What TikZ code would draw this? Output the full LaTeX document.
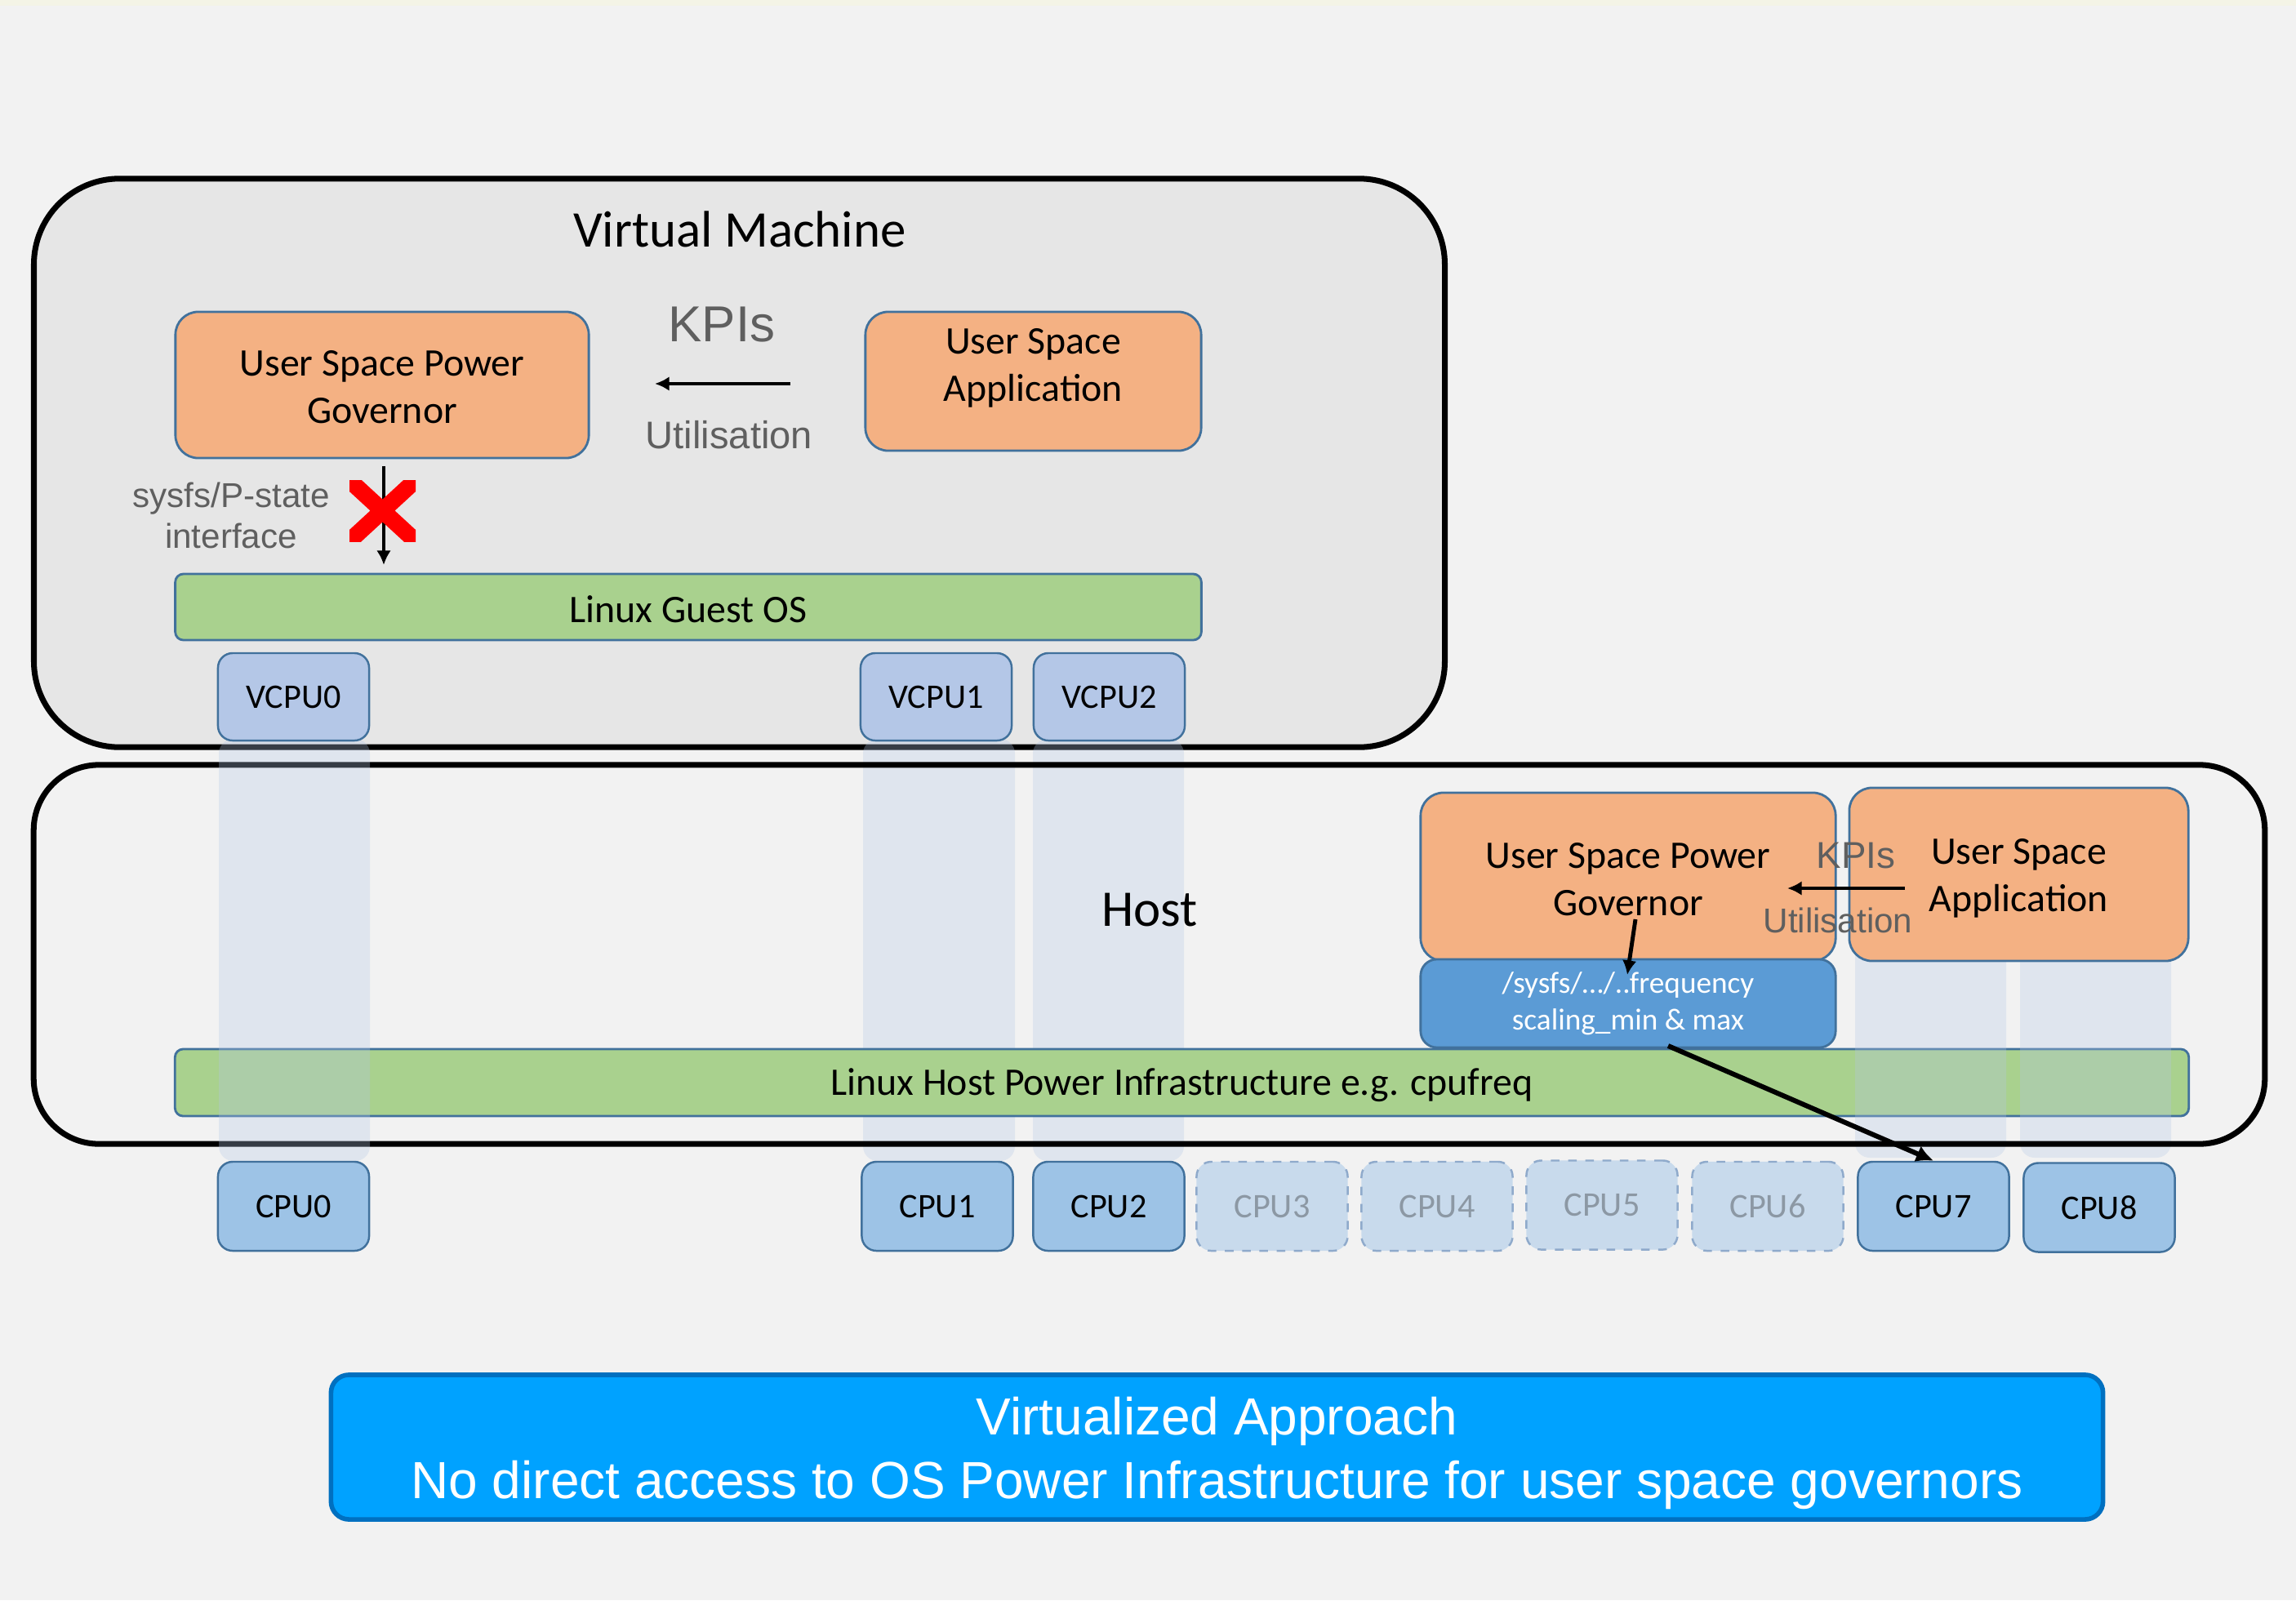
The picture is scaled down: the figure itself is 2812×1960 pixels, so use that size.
\documentclass[tikz,border=0pt]{standalone}
\usepackage{fontspec}
\setmainfont{Carlito}
\newfontfamily\arialf{Liberation Sans}
\usetikzlibrary{arrows.meta}
\definecolor{bgc}{HTML}{F2F2F2}
\definecolor{vmfill}{HTML}{E6E6E6}
\definecolor{orangef}{HTML}{F4B183}
\definecolor{edgeb}{HTML}{41719C}
\definecolor{greenf}{HTML}{A9D18E}
\definecolor{vcpuf}{HTML}{B4C7E7}
\definecolor{cpuf}{HTML}{9DC3E6}
\definecolor{dimf}{HTML}{C8DAEC}
\definecolor{dimd}{HTML}{8FAACB}
\definecolor{dimt}{HTML}{8C98A4}
\definecolor{sysf}{HTML}{5B9BD5}
\definecolor{grayt}{HTML}{5F5F5F}
\definecolor{colf}{HTML}{B4C7E7}
\definecolor{bluef}{HTML}{00A2FF}
\definecolor{blued}{HTML}{0070C0}
\definecolor{stripc}{HTML}{F4F4E6}
\tikzset{
  bigframe/.style={draw=black, line width=2pt, inner sep=0pt},
  orangebox/.style={draw=edgeb, fill=orangef, rounded corners=0.28cm, line width=0.8pt,
    align=center, inner sep=0pt, font=\fontsize{13.6}{16.6}\selectfont},
  boxtext/.style={inner sep=0pt, align=center, font=\fontsize{13.6}{16.6}\selectfont},
  greenbar/.style={draw=edgeb, fill=greenf, rounded corners=0.1cm, line width=0.8pt,
    inner sep=0pt, font=\fontsize{13.6}{16.6}\selectfont},
  vcpubox/.style={draw=edgeb, fill=vcpuf, rounded corners=0.18cm, line width=0.7pt,
    minimum width=1.85cm, minimum height=1.07cm, inner sep=0pt, font=\fontsize{12}{14}\selectfont},
  cpubox/.style={draw=edgeb, fill=cpuf, rounded corners=0.18cm, line width=0.7pt,
    minimum width=1.85cm, minimum height=1.09cm, inner sep=0pt, font=\fontsize{12}{14}\selectfont},
  dimbox/.style={draw=dimd, fill=dimf, dashed, rounded corners=0.18cm, line width=0.7pt,
    minimum width=1.85cm, minimum height=1.09cm, inner sep=0pt, text=dimt, font=\fontsize{12}{14}\selectfont},
  column/.style={fill=colf, opacity=0.3, rounded corners=0.18cm},
  title/.style={inner sep=0pt, font=\fontsize{17.9}{21}\selectfont},
  graylabel/.style={inner sep=0pt, text=grayt, align=center},
  arr/.style={draw=black, line width=1.4pt, -{Latex[length=5pt,width=5pt]}},
}
\begin{document}
\begin{tikzpicture}[x=0.01cm,y=-0.01cm]
\fill[bgc] (0,0) rectangle (2812,1960);
\useasboundingbox (0,0) rectangle (2812,1960);
\fill[stripc] (0,0) rectangle (2812,7);

% Virtual machine frame
\node[bigframe, fill=vmfill, rounded corners=1.05cm, minimum width=17.27cm, minimum height=6.96cm] (vm) at (905.5,567) {};

% columns under host frame
\fill[column] (1057,905) rectangle (1243,1422);
\fill[column] (1265,905) rectangle (1450,1422);

% host power bar
\node[greenbar, minimum width=24.65cm, minimum height=0.82cm] (hostbar) at (1447.5,1326) {};
\node[boxtext] (hostbartext) at (1447.5,1329) {Linux Host Power Infrastructure e.g. cpufreq};

\fill[column] (2272,1100) rectangle (2457,1418);
\fill[column] (2474,1100) rectangle (2659,1418);

% host frame
\node[bigframe, rounded corners=0.8cm, minimum width=27.31cm, minimum height=4.64cm] (host) at (1407.5,1169) {};

\fill[column] (268,905) rectangle (453,1422);

% VM content
\node[title] (vmtitle) at (906,281) {Virtual Machine};
\node[orangebox, minimum width=5.06cm, minimum height=1.79cm] (vgov) at (468,471.5) {};
\node[boxtext] (vgovtext) at (468,474) {User Space Power\\Governor};
\node[orangebox, minimum width=4.11cm, minimum height=1.70cm] (vapp) at (1265.5,467) {};
\node[boxtext] (vapptext) at (1265.5,451) {User Space\\Application};
\node[greenbar, minimum width=12.56cm, minimum height=0.81cm] (guestos) at (843,743.5) {};
\node[boxtext] (guestostext) at (843,746) {Linux Guest OS};

\node[graylabel, font=\arialf\fontsize{17.6}{20}\selectfont] (kpi1) at (884,398) {KPIs};
\node[graylabel, font=\arialf\fontsize{13.4}{16}\selectfont] (util1) at (893,533) {Utilisation};
\node[graylabel, font=\arialf\fontsize{12}{14.2}\selectfont] (sysfs1) at (283,631) {sysfs/P-state\\interface};

\coordinate (ka) at (968,470);
\coordinate (kb) at (802,470);
\draw[arr] (ka) -- (kb);

\coordinate (da) at (470,571);
\coordinate (db) at (470,692);
\draw[arr] (da) -- (db);

\begin{scope}
\clip (428,588) rectangle (509,663);
\draw[red, line width=5.8pt] (418,579) -- (519,672) (418,672) -- (519,579);
\end{scope}

\node[vcpubox] (vcpu0) at (359.5,853.5) {VCPU0};
\node[vcpubox] (vcpu1) at (1146.5,853.5) {VCPU1};
\node[vcpubox] (vcpu2) at (1358.5,853.5) {VCPU2};

% Host content
\node[title] (hosttitle) at (1408,1115) {Host};
\node[orangebox, minimum width=5.08cm, minimum height=2.06cm] (hgov) at (1994,1074) {};
\node[boxtext] (hgovtext) at (1994,1077) {User Space Power\\Governor};
\node[orangebox, minimum width=4.15cm, minimum height=2.12cm] (happ) at (2472.5,1071) {};
\node[boxtext] (happtext) at (2472.5,1076) {User Space\\Application};
\node[draw=edgeb, fill=sysf, rounded corners=0.2cm, line width=0.8pt, minimum width=5.08cm, minimum height=1.08cm,
  inner sep=0pt, align=center, text=white, font=\fontsize{10.6}{12.8}\selectfont] (sysfs2) at (1994,1229)
  {/sysfs/…/..frequency\\scaling\_min \& max};

\node[graylabel, font=\arialf\fontsize{13}{15}\selectfont] (kpi2) at (2273,1048) {KPIs};
\node[graylabel, font=\arialf\fontsize{12}{14}\selectfont] (util2) at (2251,1127) {Utilisation};

\coordinate (ha) at (2333,1088);
\coordinate (hb) at (2189,1088);
\draw[arr] (ha) -- (hb);

\coordinate (ga) at (2003,1126);
\coordinate (gb) at (1993,1194);
\draw[arr] (ga) -- (gb);

% CPUs
\node[cpubox] (cpu0) at (359.5,1477.5) {CPU0};
\node[cpubox] (cpu1) at (1148,1477.5) {CPU1};
\node[cpubox] (cpu2) at (1358,1477.5) {CPU2};
\node[dimbox] (cpu3) at (1558,1477.5) {CPU3};
\node[dimbox] (cpu4) at (1760,1477.5) {CPU4};
\node[dimbox] (cpu5) at (1962,1476) {CPU5};
\node[dimbox] (cpu6) at (2165,1477.5) {CPU6};
\node[cpubox] (cpu7) at (2368,1477.5) {CPU7};
\node[cpubox] (cpu8) at (2571,1479) {CPU8};

\coordinate (sa) at (2043,1281);
\draw[draw=black, line width=1.7pt, -{Latex[length=6pt,width=6pt]}] (sa) -- (cpu7.north);

% bottom banner
\node[draw=blued, fill=bluef, line width=1.6pt, rounded corners=0.22cm, minimum width=21.69cm, minimum height=1.77cm,
  inner sep=0pt] (banner) at (1490.5,1772.5) {};
\node[inner sep=0pt, align=center, text=white, font=\arialf\fontsize{18.2}{22}\selectfont] (bannertext) at (1490.5,1780)
  {Virtualized Approach\\No direct access to OS Power Infrastructure for user space governors};
\end{tikzpicture}
\end{document}
